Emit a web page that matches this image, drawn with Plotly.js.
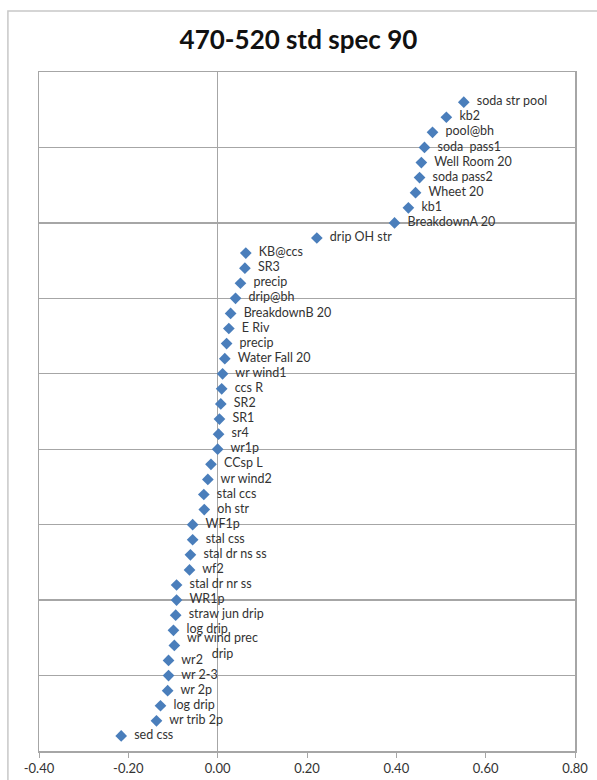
<!DOCTYPE html>
<html>
<head>
<meta charset="utf-8">
<script src="https://cdn.plot.ly/plotly-3.0.1.min.js"></script>
<style>html,body{margin:0;padding:0;background:#fff;}#chart{width:597px;height:780px;}</style>
</head>
<body>
<div id="chart"></div>
<script>
// Sample labels, top to bottom
var labels = [
  "soda str pool","kb2","pool@bh","soda  pass1","Well Room 20","soda pass2","Wheet 20","kb1",
  "BreakdownA 20","drip OH str","KB@ccs","SR3","precip","drip@bh","BreakdownB 20","E Riv",
  "precip","Water Fall 20","wr wind1","ccs R","SR2","SR1","sr4","wr1p","CCsp L","wr wind2",
  "stal ccs","oh str","WF1p","stal css","stal dr ns ss","wf2","stal dr nr ss","WR1p",
  "straw jun drip","log drip","wr wind prec drip","wr2","wr 2-3","wr 2p","log drip","wr trib 2p","sed css"
];
// x values
var values = [
  0.551,0.512,0.481,0.463,0.456,0.452,0.443,0.427,
  0.396,0.222,0.063,0.061,0.051,0.040,0.029,0.025,
  0.020,0.016,0.011,0.009,0.007,0.004,0.002,0.000,-0.015,-0.022,
  -0.031,-0.030,-0.056,-0.056,-0.061,-0.063,-0.092,-0.092,
  -0.094,-0.099,-0.097,-0.110,-0.110,-0.112,-0.128,-0.137,-0.216
];
// y positions (rank order)
var ranks = [43,42,41,40,39,38,37,36,35,34,33,32,31,30,29,28,27,26,25,24,23,22,21,20,19,18,17,16,15,14,13,12,11,10,9,8,7,6,5,4,3,2,1];
var xTickVals = [-0.4,-0.2,0,0.2,0.4,0.6,0.8];
var xTickText = ["-0.40","-0.20","0.00","0.20","0.40","0.60","0.80"];

var wrapIdx = labels.indexOf("wr wind prec drip");
var pointText = labels.map(function(l,i){ return i===wrapIdx ? "" : "  " + l; });

var FONT = "Lato, 'Open Sans', sans-serif";
var trace = {
  type: "scatter",
  mode: "markers+text",
  x: values,
  y: ranks,
  text: pointText,
  textposition: "middle right",
  textfont: {family: FONT, size: 12.5, color: "#333333"},
  marker: {symbol: "diamond", size: 9, color: "#4a7ebb"},
  cliponaxis: false,
  hoverinfo: "x+y"
};

var gray = "#a6a6a6";
var layout = {
  width: 597, height: 780,
  margin: {l: 39, r: 22, t: 72, b: 29, pad: 0},
  paper_bgcolor: "#ffffff", plot_bgcolor: "#ffffff",
  showlegend: false,
  title: {text: "<b>470-520 std spec 90</b>", x: 0.5, xanchor: "center", y: 0.949, yanchor: "middle",
          font: {family: FONT, size: 26, color: "#111111"}},
  xaxis: {
    range: [-0.4, 0.8], tickvals: xTickVals, ticktext: xTickText,
    showgrid: false, zeroline: true, zerolinecolor: gray, zerolinewidth: 1.2,
    showline: true, mirror: true, linecolor: gray, linewidth: 1.5,
    ticks: "outside", ticklen: 5, tickcolor: gray, tickwidth: 1,
    tickfont: {family: FONT, size: 13, color: "#333333"},
    fixedrange: true
  },
  yaxis: {
    range: [0, 45], dtick: 5, tick0: 0, showticklabels: false,
    showgrid: true, gridcolor: gray, gridwidth: 1.3, zeroline: false,
    showline: true, mirror: true, linecolor: gray, linewidth: 1.5, ticks: "",
    fixedrange: true
  },
  shapes: [{
    type: "rect", xref: "paper", yref: "paper",
    x0: -0.058, x1: 1.2, y0: -0.2, y1: 1.09,
    line: {color: "#c8c8c8", width: 1.5}, fillcolor: "rgba(0,0,0,0)", layer: "below"
  }],
  annotations: [{
    x: values[wrapIdx], y: ranks[wrapIdx], xref: "x", yref: "y",
    text: "wr wind prec<br>drip", showarrow: false, align: "center",
    xanchor: "left", yanchor: "middle", xshift: 11,
    font: {family: FONT, size: 12.5, color: "#333333"}
  }]
};

Plotly.newPlot("chart", [trace], layout, {displayModeBar: false, staticPlot: true});
</script>
</body>
</html>
